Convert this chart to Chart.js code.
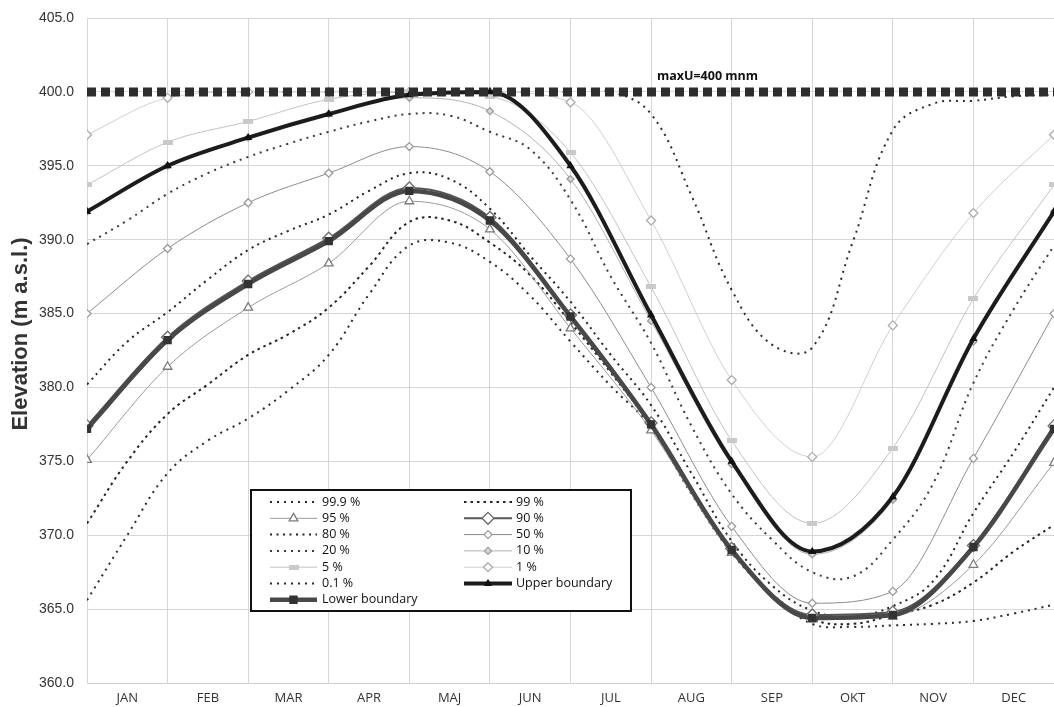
<!DOCTYPE html>
<html>
<head>
<meta charset="utf-8">
<script src="https://cdn.jsdelivr.net/npm/chart.js@4.4.0/dist/chart.umd.min.js"></script>
<style>
  html, body { margin: 0; padding: 0; background: #fff; overflow: hidden; }
  #myCanvasNivo { display: block; }
</style>
</head>
<body>
<canvas id="myCanvasNivo" width="1054" height="707"></canvas>
<script>
var meses = ['JAN', 'FEB', 'MAR', 'APR', 'MAJ', 'JUN', 'JUL', 'AUG', 'SEP', 'OKT', 'NOV', 'DEC'];
var yTicks = [360, 365, 370, 375, 380, 385, 390, 395, 400, 405];

// month boundaries (0 = start of JAN, 12 = end of DEC)
var xMeses = [0, 1, 2, 3, 4, 5, 6, 7, 8, 9, 10, 11, 12];
// half month steps for the dotted percentiles
var xMeioMes = [0, 0.5, 1, 1.5, 2, 2.5, 3, 3.5, 4, 4.5, 5, 5.5, 6, 6.5, 7, 7.5, 8, 8.5, 9, 9.5, 10, 10.5, 11, 11.5, 12];

var upperBoundary = [391.9, 395.0, 396.9, 398.5, 399.8, 400.0, 395.0, 384.9, 375.0, 368.9, 372.6, 383.3, 391.9];
var lowerBoundary = [377.2, 383.2, 387.0, 389.9, 393.3, 391.3, 384.8, 377.5, 369.0, 364.4, 364.6, 369.2, 377.2];
var p90 = [377.4, 383.4, 387.2, 390.1, 393.5, 391.5, 384.9, 377.6, 369.1, 364.6, 364.8, 369.3, 377.4];
var p95 = [375.1, 381.4, 385.4, 388.4, 392.6, 390.7, 384.0, 377.1, 368.8, 364.3, 364.5, 368.0, 374.9];
var p50 = [385.0, 389.4, 392.5, 394.5, 396.3, 394.6, 388.7, 380.0, 370.6, 365.4, 366.2, 375.2, 385.0];
var p10 = [391.9, 395.0, 396.9, 398.5, 399.6, 398.7, 394.1, 384.5, 374.8, 368.7, 372.4, 383.1, 391.9];
var p5 = [393.7, 396.6, 398.0, 399.5, 400.0, 399.7, 395.9, 386.8, 376.4, 370.8, 375.9, 386.0, 393.7];
var p1 = [397.1, 399.6, 400.0, 400.0, 400.0, 400.0, 399.3, 391.3, 380.5, 375.3, 384.2, 391.8, 397.1];

var p01 = [399.8, 400.0, 400.0, 400.0, 400.0, 400.0, 400.0, 400.0, 400.0, 400.0, 400.0, 400.0, 400.0,
           400.0, 398.5, 393.0, 386.6, 382.9, 382.7, 389.8, 397.4, 399.2, 399.4, 399.7, 399.8];
var p20 = [389.7, 391.3, 393.1, 394.5, 395.6, 396.5, 397.3, 398.0, 398.5, 398.4, 397.3, 396.1, 392.7,
           387.5, 383.0, 377.4, 372.8, 369.7, 367.5, 367.2, 369.7, 373.5, 380.3, 385.3, 389.6];
var p80 = [380.2, 383.1, 385.1, 387.3, 389.3, 390.6, 391.7, 393.3, 394.5, 394.1, 392.1, 388.9, 385.8,
           382.2, 378.8, 374.2, 369.6, 366.6, 364.9, 364.5, 365.2, 366.9, 371.5, 375.6, 380.0];
var p99 = [370.8, 375.0, 378.2, 380.2, 382.2, 383.6, 385.4, 388.2, 391.2, 391.3, 389.8, 387.6, 384.4,
           381.0, 377.4, 373.0, 368.9, 366.0, 364.3, 364.0, 364.6, 365.3, 366.8, 368.9, 370.7];
var p999 = [365.6, 370.0, 374.2, 376.4, 377.9, 379.8, 382.2, 386.3, 389.6, 389.8, 388.5, 386.2, 383.1,
            380.1, 377.3, 372.8, 368.8, 366.0, 364.0, 363.8, 363.9, 364.0, 364.2, 364.7, 365.3];

var maxUx = [0, 12];
var maxU = [400, 400];
var rotuloMaxU = { texto: 'maxU=400 mnm', x: 7.7, y: 401.05 };

var legendaEsq = ['99.9 %', '95 %', '80 %', '20 %', '5 %', '0.1 %', 'Lower boundary'];
var legendaDir = ['99 %', '90 %', '50 %', '10 %', '1 %', 'Upper boundary'];

function pares(xs, ys) {
    return ys.map(function(v, i) { return { x: xs[i], y: v }; });
}

// small light grey bar used as the 5 % marker
var marcaCinza = document.createElement('canvas');
marcaCinza.width = 10;
marcaCinza.height = 5;
var mctx = marcaCinza.getContext('2d');
mctx.fillStyle = '#c9c9c9';
mctx.fillRect(0, 0, 10, 5);

function serieMarcada(label, dados, cor, largura, estilo, raio, fundo, borda, ordem) {
    return {
        label: label,
        data: pares(xMeses, dados),
        borderColor: cor,
        borderWidth: largura,
        pointStyle: estilo,
        pointRadius: raio,
        pointHoverRadius: raio,
        pointBackgroundColor: fundo,
        pointBorderColor: borda,
        pointBorderWidth: 1.3,
        cubicInterpolationMode: 'monotone',
        order: ordem
    };
}

function seriePontilhada(label, dados, cor, traco, ordem) {
    return {
        label: label,
        data: pares(xMeioMes, dados),
        borderColor: cor,
        borderWidth: 2,
        borderDash: traco,
        pointRadius: 0,
        pointHoverRadius: 0,
        tension: 0.4,
        order: ordem
    };
}

var datasets = [
    {
        label: 'maxU',
        data: pares(maxUx, maxU),
        borderColor: '#2d2d2d',
        borderWidth: 9,
        borderDash: [9, 5],
        pointRadius: 0,
        pointHoverRadius: 0,
        order: 0
    },
    serieMarcada('Upper boundary', upperBoundary, '#1c1c1c', 4, 'triangle', 3.5, '#111', '#111', 1),
    serieMarcada('Lower boundary', lowerBoundary, '#484848', 4.5, 'rect', 5, '#333', '#333', 2),
    serieMarcada('90 %', p90, '#555', 2, 'rectRot', 6, '#fff', '#6a6a6a', 3),
    serieMarcada('95 %', p95, '#9a9a9a', 1, 'triangle', 5, '#fff', '#7c7c7c', 4),
    serieMarcada('50 %', p50, '#8c8c8c', 1, 'rectRot', 4, '#fff', '#9a9a9a', 5),
    serieMarcada('10 %', p10, '#b2b2b2', 1, 'rectRot', 3.5, '#d6d6d6', '#9c9c9c', 6),
    serieMarcada('5 %', p5, '#c2c2c2', 1, marcaCinza, 5, '#c9c9c9', '#c9c9c9', 7),
    serieMarcada('1 %', p1, '#cfcfcf', 1, 'rectRot', 4.5, '#fff', '#ababab', 8),
    seriePontilhada('0.1 %', p01, '#2a2a2a', [2, 5], 9),
    seriePontilhada('20 %', p20, '#3a3a3a', [2, 5], 10),
    seriePontilhada('80 %', p80, '#222', [2, 4.5], 11),
    seriePontilhada('99 %', p99, '#222', [2.5, 4], 12),
    seriePontilhada('99.9 %', p999, '#2a2a2a', [2, 5], 13)
];

function achaSerie(chart, label) {
    return chart.data.datasets.filter(function(d) { return d.label === label; })[0];
}

function desenhaItem(ctx, ds, x1, x2, xt, y) {
    ctx.save();
    ctx.strokeStyle = ds.borderColor;
    ctx.lineWidth = ds.borderWidth;
    ctx.setLineDash(ds.borderDash || []);
    ctx.beginPath();
    ctx.moveTo(x1, y);
    ctx.lineTo(x2, y);
    ctx.stroke();
    ctx.setLineDash([]);
    if (ds.pointRadius > 0) {
        ctx.fillStyle = ds.pointBackgroundColor;
        ctx.strokeStyle = ds.pointBorderColor;
        ctx.lineWidth = ds.pointBorderWidth;
        Chart.helpers.drawPoint(ctx, {
            pointStyle: ds.pointStyle,
            radius: ds.pointRadius,
            rotation: 0,
            borderWidth: ds.pointBorderWidth
        }, (x1 + x2) / 2, y);
    }
    ctx.fillStyle = '#111';
    ctx.font = '12.5px "Open Sans"';
    ctx.textBaseline = 'middle';
    ctx.textAlign = 'left';
    ctx.fillText(ds.label, xt, y);
    ctx.restore();
}

var caixaLegenda = {
    id: 'caixaLegenda',
    afterDraw: function(chart) {
        var ctx = chart.ctx;
        ctx.save();
        ctx.fillStyle = '#fff';
        ctx.fillRect(251, 490, 380, 121);
        ctx.strokeStyle = '#111';
        ctx.lineWidth = 2;
        ctx.strokeRect(251, 490, 380, 121);
        ctx.restore();
        legendaEsq.forEach(function(l, i) {
            desenhaItem(ctx, achaSerie(chart, l), 270, 317, 322, 502 + i * 16.3);
        });
        legendaDir.forEach(function(l, i) {
            desenhaItem(ctx, achaSerie(chart, l), 464, 512, 516, 502 + i * 16.3);
        });
    }
};

var textos = {
    id: 'textos',
    afterDraw: function(chart) {
        var ctx = chart.ctx;
        var sx = chart.scales.x, sy = chart.scales.y;
        ctx.save();
        ctx.fillStyle = '#111';
        ctx.font = 'bold 12.5px "Open Sans"';
        ctx.textAlign = 'center';
        ctx.textBaseline = 'middle';
        ctx.fillText(rotuloMaxU.texto, sx.getPixelForValue(rotuloMaxU.x), sy.getPixelForValue(rotuloMaxU.y));

        // y axis title
        ctx.translate(27, 334);
        ctx.rotate(-Math.PI / 2);
        ctx.font = 'bold 22px "Liberation Sans"';
        ctx.fillStyle = '#333';
        ctx.textBaseline = 'alphabetic';
        ctx.fillText('Elevation (m a.s.l.)', 0, 0);
        ctx.restore();
    }
};

var grafico = new Chart(document.getElementById('myCanvasNivo'), {
    type: 'line',
    data: { datasets: datasets },
    plugins: [caixaLegenda, textos],
    options: {
        responsive: false,
        animation: false,
        devicePixelRatio: 1,
        layout: { autoPadding: false, padding: { top: 18, right: 0, bottom: 0, left: 0 } },
        elements: { line: { borderCapStyle: 'butt' } },
        plugins: {
            legend: { display: false },
            tooltip: { enabled: false },
            title: { display: false }
        },
        scales: {
            x: {
                type: 'linear',
                min: 0,
                max: 12,
                afterFit: function(s) {
                    s.height = 24;
                    s.paddingLeft = 0;
                    s.paddingRight = 0;
                },
                border: { color: '#d0d0d0' },
                grid: {
                    drawTicks: false,
                    color: function(c) {
                        return (c.tick && c.tick.value % 1 === 0) ? '#d6d6d6' : 'rgba(0,0,0,0)';
                    }
                },
                ticks: {
                    stepSize: 0.5,
                    autoSkip: false,
                    maxRotation: 0,
                    padding: 7,
                    color: '#333',
                    font: { family: 'Open Sans', size: 13 },
                    callback: function(v) {
                        return (v % 1 === 0.5) ? meses[Math.floor(v)] : '';
                    }
                }
            },
            y: {
                min: yTicks[0],
                max: yTicks[yTicks.length - 1],
                afterFit: function(s) {
                    s.width = 87;
                    s.paddingTop = 0;
                    s.paddingBottom = 0;
                },
                border: { color: '#d6d6d6' },
                grid: { drawTicks: false, color: '#d6d6d6' },
                ticks: {
                    stepSize: 5,
                    padding: 13,
                    color: '#333',
                    font: { family: 'Liberation Sans', size: 14 },
                    callback: function(v) { return v.toFixed(1); }
                }
            }
        }
    }
});
</script>
</body>
</html>
